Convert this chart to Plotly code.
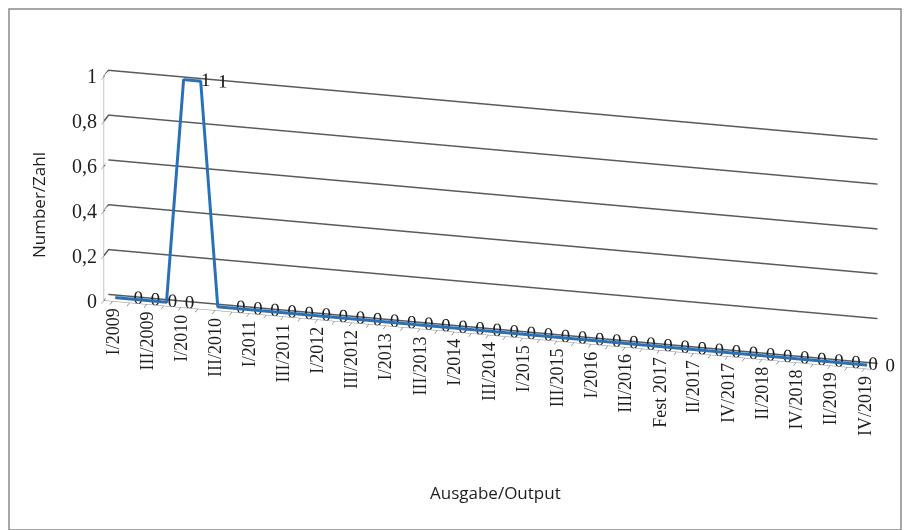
import math
import plotly.graph_objects as go

# Quarterly issues 2009-2019 (plus the 2017 "Fest" issue)
categories = (
    [f"{q}/{y}" for y in range(2009, 2017) for q in ("I", "II", "III", "IV")]
    + ["Fest 2017"]
    + [f"{q}/{y}" for y in range(2017, 2020) for q in ("I", "II", "III", "IV")]
)
counts = [0, 0, 0, 0, 1, 1] + [0] * (len(categories) - 6)
value_ticks = [0, 0.2, 0.4, 0.6, 0.8, 1]
value_labels = ["0", "0,2", "0,4", "0,6", "0,8", "1"]

idx = list(range(len(categories)))
x_lo, x_hi = -0.5, len(idx) - 0.5
depth = 0.6  # position of the ribbon inside the thin depth slab

SERIF = "Liberation Serif, Times New Roman, serif"
SANS = "Open Sans, Noto Sans, sans-serif"
INK = "#1e1e1e"
CAT_SIZE = 18

# approximate Times/Liberation Serif advance widths (em) to hang rotated labels from their end
_W = {"I": 0.333, "V": 0.722, "/": 0.278, "F": 0.556, "e": 0.444, "s": 0.389,
      "t": 0.278, " ": 0.25}


def text_len(s, size):
    return sum(_W.get(c, 0.5) for c in s) * size


# value gridlines on the back wall and the narrow left side wall
gx, gy, gz = [], [], []
for v in value_ticks:
    gx += [x_lo, x_lo, x_hi, None]
    gy += [0, 1, 1, None]
    gz += [v, v, v, None]

fig = go.Figure()
fig.add_trace(go.Scatter3d(
    x=gx, y=gy, z=gz, mode="lines",
    line=dict(color="#5a5a5a", width=3),
    connectgaps=False, hoverinfo="skip",
))
fig.add_trace(go.Scatter3d(
    x=idx, y=[depth] * len(idx), z=counts,
    mode="lines+text",
    line=dict(color="#2a70b8", width=6),
    text=[str(v) for v in counts],
    textposition="middle right",
    textfont=dict(family=SERIF, size=19, color=INK),
    hoverinfo="skip",
))

# rotated category labels along the front edge (every second issue)
notes = [
    dict(x=i, y=0, z=0, text=categories[i], textangle=-90, showarrow=False,
         xanchor="center", yanchor="middle",
         yshift=-(7 + text_len(categories[i], CAT_SIZE) / 2),
         font=dict(family=SERIF, size=CAT_SIZE, color=INK))
    for i in idx[::2]
]
# value labels beside the left wall
notes += [
    dict(x=x_lo, y=0, z=v, text=t, showarrow=False,
         xanchor="right", yanchor="middle", xshift=-5,
         font=dict(family=SERIF, size=20, color=INK))
    for v, t in zip(value_ticks, value_labels)
]

# oblique orthographic view: slightly from the right and from above
az = math.radians(14.7)
el = math.radians(20)
R = 1.8
look_at = dict(x=-0.151, y=0.0, z=-0.195)
eye = dict(x=R * math.sin(az) * math.cos(el) + look_at["x"],
           y=-R * math.cos(az) * math.cos(el) + look_at["y"],
           z=R * math.sin(el) + look_at["z"])

axis_common = dict(showbackground=False, showspikes=False, zeroline=False,
                   showgrid=False, title=dict(text=""))
fig.update_layout(
    width=904, height=530,
    margin=dict(l=0, r=0, t=0, b=0),
    paper_bgcolor="white",
    showlegend=False,
    scene=dict(
        domain=dict(x=[0, 1], y=[0, 1]),
        aspectmode="manual",
        aspectratio=dict(x=3.0, y=0.07, z=0.9),
        camera=dict(eye=eye, center=look_at, up=dict(x=0, y=0, z=1),
                    projection=dict(type="orthographic")),
        xaxis=dict(axis_common, range=[x_lo, x_hi],
                   showticklabels=False, ticks="outside", tickvals=idx, ticklen=4,
                   showline=True, linecolor="#8c8c8c"),
        yaxis=dict(axis_common, range=[0, 1], showticklabels=False, showline=False),
        zaxis=dict(axis_common, range=[0, 1], tickvals=value_ticks,
                   showticklabels=False,
                   showline=True, linecolor="#8c8c8c", ticks="outside", ticklen=4),
        annotations=notes,
    ),
    shapes=[dict(type="rect", xref="paper", yref="paper",
                 x0=9 / 904, x1=901 / 904, y0=0, y1=1 - 9 / 530,
                 line=dict(color="#8a8a8a", width=1.5))],
    annotations=[
        dict(text="Number/Zahl", xref="paper", yref="paper", x=38 / 904, y=1 - 205 / 530,
             xanchor="center", yanchor="middle",
             textangle=-90, showarrow=False, font=dict(family=SANS, size=17, color=INK)),
        dict(text="Ausgabe/Output", xref="paper", yref="paper", x=495 / 904, y=1 - 492 / 530,
             xanchor="center", yanchor="middle",
             showarrow=False, font=dict(family=SANS, size=17, color=INK)),
    ],
)

fig.write_html("out.html", config={"displayModeBar": False})
